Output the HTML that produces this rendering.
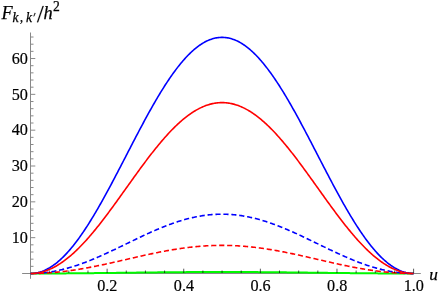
<!DOCTYPE html>
<html><head><meta charset="utf-8"><title>plot</title>
<style>
html,body{margin:0;padding:0;background:#fff;}
body{width:438px;height:295px;position:relative;overflow:hidden;font-family:"Liberation Serif",serif;}
</style></head><body>
<svg width="438" height="295" viewBox="0 0 438 295" style="position:absolute;left:0;top:0;filter:blur(0.4px)">
<g stroke="#000" stroke-width="0.9" fill="none" stroke-opacity="0.52">
<line x1="22.1" y1="273.50" x2="420.8" y2="273.50"/>
<line x1="30.50" y1="32.5" x2="30.50" y2="278.8"/>
</g>
<g fill="none" stroke-linejoin="round">
<path d="M30.50,273.50 L31.46,273.50 L32.42,273.50 L33.37,273.50 L34.33,273.50 L35.29,273.50 L36.25,273.50 L37.20,273.50 L38.16,273.49 L39.12,273.49 L40.08,273.49 L41.04,273.49 L41.99,273.49 L42.95,273.48 L43.91,273.48 L44.87,273.48 L45.82,273.48 L46.78,273.47 L47.74,273.47 L48.70,273.47 L49.66,273.46 L50.61,273.46 L51.57,273.46 L52.53,273.45 L53.49,273.45 L54.44,273.44 L55.40,273.44 L56.36,273.43 L57.32,273.43 L58.27,273.42 L59.23,273.42 L60.19,273.41 L61.15,273.41 L62.11,273.40 L63.06,273.40 L64.02,273.39 L64.98,273.38 L65.94,273.38 L66.89,273.37 L67.85,273.36 L68.81,273.36 L69.77,273.35 L70.73,273.34 L71.68,273.33 L72.64,273.33 L73.60,273.32 L74.56,273.31 L75.51,273.30 L76.47,273.30 L77.43,273.29 L78.39,273.28 L79.35,273.27 L80.30,273.26 L81.26,273.25 L82.22,273.25 L83.18,273.24 L84.13,273.23 L85.09,273.22 L86.05,273.21 L87.01,273.20 L87.97,273.19 L88.92,273.18 L89.88,273.17 L90.84,273.16 L91.80,273.15 L92.75,273.14 L93.71,273.13 L94.67,273.12 L95.63,273.11 L96.58,273.10 L97.54,273.09 L98.50,273.08 L99.46,273.07 L100.42,273.06 L101.37,273.05 L102.33,273.04 L103.29,273.02 L104.25,273.01 L105.20,273.00 L106.16,272.99 L107.12,272.98 L108.08,272.97 L109.04,272.96 L109.99,272.95 L110.95,272.93 L111.91,272.92 L112.87,272.91 L113.82,272.90 L114.78,272.89 L115.74,272.88 L116.70,272.87 L117.66,272.85 L118.61,272.84 L119.57,272.83 L120.53,272.82 L121.49,272.81 L122.44,272.79 L123.40,272.78 L124.36,272.77 L125.32,272.76 L126.28,272.75 L127.23,272.74 L128.19,272.72 L129.15,272.71 L130.11,272.70 L131.06,272.69 L132.02,272.68 L132.98,272.67 L133.94,272.65 L134.89,272.64 L135.85,272.63 L136.81,272.62 L137.77,272.61 L138.73,272.59 L139.68,272.58 L140.64,272.57 L141.60,272.56 L142.56,272.55 L143.51,272.54 L144.47,272.53 L145.43,272.52 L146.39,272.50 L147.35,272.49 L148.30,272.48 L149.26,272.47 L150.22,272.46 L151.18,272.45 L152.13,272.44 L153.09,272.43 L154.05,272.42 L155.01,272.41 L155.97,272.40 L156.92,272.39 L157.88,272.37 L158.84,272.36 L159.80,272.35 L160.75,272.34 L161.71,272.33 L162.67,272.32 L163.63,272.31 L164.59,272.31 L165.54,272.30 L166.50,272.29 L167.46,272.28 L168.42,272.27 L169.37,272.26 L170.33,272.25 L171.29,272.24 L172.25,272.23 L173.20,272.22 L174.16,272.22 L175.12,272.21 L176.08,272.20 L177.04,272.19 L177.99,272.18 L178.95,272.18 L179.91,272.17 L180.87,272.16 L181.82,272.15 L182.78,272.15 L183.74,272.14 L184.70,272.13 L185.66,272.13 L186.61,272.12 L187.57,272.11 L188.53,272.11 L189.49,272.10 L190.44,272.09 L191.40,272.09 L192.36,272.08 L193.32,272.08 L194.28,272.07 L195.23,272.07 L196.19,272.06 L197.15,272.06 L198.11,272.05 L199.06,272.05 L200.02,272.04 L200.98,272.04 L201.94,272.04 L202.90,272.03 L203.85,272.03 L204.81,272.03 L205.77,272.02 L206.73,272.02 L207.68,272.02 L208.64,272.01 L209.60,272.01 L210.56,272.01 L211.51,272.01 L212.47,272.00 L213.43,272.00 L214.39,272.00 L215.35,272.00 L216.30,272.00 L217.26,272.00 L218.22,272.00 L219.18,272.00 L220.13,272.00 L221.09,272.00 L222.05,272.00 L223.01,272.00 L223.97,272.00 L224.92,272.00 L225.88,272.00 L226.84,272.00 L227.80,272.00 L228.75,272.00 L229.71,272.00 L230.67,272.00 L231.63,272.00 L232.59,272.01 L233.54,272.01 L234.50,272.01 L235.46,272.01 L236.42,272.02 L237.37,272.02 L238.33,272.02 L239.29,272.03 L240.25,272.03 L241.21,272.03 L242.16,272.04 L243.12,272.04 L244.08,272.04 L245.04,272.05 L245.99,272.05 L246.95,272.06 L247.91,272.06 L248.87,272.07 L249.82,272.07 L250.78,272.08 L251.74,272.08 L252.70,272.09 L253.66,272.09 L254.61,272.10 L255.57,272.11 L256.53,272.11 L257.49,272.12 L258.44,272.13 L259.40,272.13 L260.36,272.14 L261.32,272.15 L262.28,272.15 L263.23,272.16 L264.19,272.17 L265.15,272.18 L266.11,272.18 L267.06,272.19 L268.02,272.20 L268.98,272.21 L269.94,272.22 L270.90,272.22 L271.85,272.23 L272.81,272.24 L273.77,272.25 L274.73,272.26 L275.68,272.27 L276.64,272.28 L277.60,272.29 L278.56,272.30 L279.51,272.31 L280.47,272.31 L281.43,272.32 L282.39,272.33 L283.35,272.34 L284.30,272.35 L285.26,272.36 L286.22,272.37 L287.18,272.39 L288.13,272.40 L289.09,272.41 L290.05,272.42 L291.01,272.43 L291.97,272.44 L292.92,272.45 L293.88,272.46 L294.84,272.47 L295.80,272.48 L296.75,272.49 L297.71,272.50 L298.67,272.52 L299.63,272.53 L300.59,272.54 L301.54,272.55 L302.50,272.56 L303.46,272.57 L304.42,272.58 L305.37,272.59 L306.33,272.61 L307.29,272.62 L308.25,272.63 L309.21,272.64 L310.16,272.65 L311.12,272.67 L312.08,272.68 L313.04,272.69 L313.99,272.70 L314.95,272.71 L315.91,272.72 L316.87,272.74 L317.83,272.75 L318.78,272.76 L319.74,272.77 L320.70,272.78 L321.66,272.79 L322.61,272.81 L323.57,272.82 L324.53,272.83 L325.49,272.84 L326.44,272.85 L327.40,272.87 L328.36,272.88 L329.32,272.89 L330.28,272.90 L331.23,272.91 L332.19,272.92 L333.15,272.93 L334.11,272.95 L335.06,272.96 L336.02,272.97 L336.98,272.98 L337.94,272.99 L338.90,273.00 L339.85,273.01 L340.81,273.02 L341.77,273.04 L342.73,273.05 L343.68,273.06 L344.64,273.07 L345.60,273.08 L346.56,273.09 L347.52,273.10 L348.47,273.11 L349.43,273.12 L350.39,273.13 L351.35,273.14 L352.30,273.15 L353.26,273.16 L354.22,273.17 L355.18,273.18 L356.13,273.19 L357.09,273.20 L358.05,273.21 L359.01,273.22 L359.97,273.23 L360.92,273.24 L361.88,273.25 L362.84,273.25 L363.80,273.26 L364.75,273.27 L365.71,273.28 L366.67,273.29 L367.63,273.30 L368.59,273.30 L369.54,273.31 L370.50,273.32 L371.46,273.33 L372.42,273.33 L373.37,273.34 L374.33,273.35 L375.29,273.36 L376.25,273.36 L377.21,273.37 L378.16,273.38 L379.12,273.38 L380.08,273.39 L381.04,273.40 L381.99,273.40 L382.95,273.41 L383.91,273.41 L384.87,273.42 L385.83,273.42 L386.78,273.43 L387.74,273.43 L388.70,273.44 L389.66,273.44 L390.61,273.45 L391.57,273.45 L392.53,273.46 L393.49,273.46 L394.44,273.46 L395.40,273.47 L396.36,273.47 L397.32,273.47 L398.28,273.48 L399.23,273.48 L400.19,273.48 L401.15,273.48 L402.11,273.49 L403.06,273.49 L404.02,273.49 L404.98,273.49 L405.94,273.49 L406.90,273.50 L407.85,273.50 L408.81,273.50 L409.77,273.50 L410.73,273.50 L411.68,273.50 L412.64,273.50 L413.60,273.50" stroke="#00f800" stroke-width="2.0"/>
<path d="M30.50,273.50 L31.46,273.50 L32.42,273.49 L33.37,273.47 L34.33,273.44 L35.29,273.41 L36.25,273.37 L37.20,273.32 L38.16,273.27 L39.12,273.20 L40.08,273.13 L41.04,273.06 L41.99,272.97 L42.95,272.88 L43.91,272.79 L44.87,272.68 L45.82,272.57 L46.78,272.45 L47.74,272.32 L48.70,272.19 L49.66,272.05 L50.61,271.90 L51.57,271.75 L52.53,271.59 L53.49,271.42 L54.44,271.24 L55.40,271.06 L56.36,270.87 L57.32,270.68 L58.27,270.48 L59.23,270.27 L60.19,270.05 L61.15,269.83 L62.11,269.61 L63.06,269.37 L64.02,269.13 L64.98,268.88 L65.94,268.63 L66.89,268.37 L67.85,268.11 L68.81,267.84 L69.77,267.56 L70.73,267.28 L71.68,266.99 L72.64,266.70 L73.60,266.40 L74.56,266.09 L75.51,265.78 L76.47,265.46 L77.43,265.14 L78.39,264.82 L79.35,264.48 L80.30,264.15 L81.26,263.81 L82.22,263.46 L83.18,263.11 L84.13,262.75 L85.09,262.39 L86.05,262.02 L87.01,261.65 L87.97,261.28 L88.92,260.90 L89.88,260.52 L90.84,260.13 L91.80,259.74 L92.75,259.34 L93.71,258.94 L94.67,258.54 L95.63,258.13 L96.58,257.72 L97.54,257.31 L98.50,256.89 L99.46,256.47 L100.42,256.05 L101.37,255.63 L102.33,255.20 L103.29,254.77 L104.25,254.33 L105.20,253.89 L106.16,253.45 L107.12,253.01 L108.08,252.57 L109.04,252.12 L109.99,251.67 L110.95,251.22 L111.91,250.77 L112.87,250.32 L113.82,249.86 L114.78,249.41 L115.74,248.95 L116.70,248.49 L117.66,248.03 L118.61,247.57 L119.57,247.10 L120.53,246.64 L121.49,246.18 L122.44,245.71 L123.40,245.25 L124.36,244.78 L125.32,244.32 L126.28,243.85 L127.23,243.38 L128.19,242.92 L129.15,242.45 L130.11,241.99 L131.06,241.52 L132.02,241.06 L132.98,240.60 L133.94,240.13 L134.89,239.67 L135.85,239.21 L136.81,238.75 L137.77,238.29 L138.73,237.84 L139.68,237.38 L140.64,236.93 L141.60,236.48 L142.56,236.03 L143.51,235.58 L144.47,235.13 L145.43,234.69 L146.39,234.25 L147.35,233.81 L148.30,233.37 L149.26,232.94 L150.22,232.50 L151.18,232.08 L152.13,231.65 L153.09,231.23 L154.05,230.81 L155.01,230.39 L155.97,229.98 L156.92,229.57 L157.88,229.16 L158.84,228.76 L159.80,228.36 L160.75,227.96 L161.71,227.57 L162.67,227.19 L163.63,226.80 L164.59,226.42 L165.54,226.05 L166.50,225.68 L167.46,225.31 L168.42,224.95 L169.37,224.59 L170.33,224.24 L171.29,223.90 L172.25,223.55 L173.20,223.22 L174.16,222.89 L175.12,222.56 L176.08,222.24 L177.04,221.92 L177.99,221.61 L178.95,221.31 L179.91,221.01 L180.87,220.71 L181.82,220.42 L182.78,220.14 L183.74,219.86 L184.70,219.59 L185.66,219.33 L186.61,219.07 L187.57,218.82 L188.53,218.57 L189.49,218.33 L190.44,218.10 L191.40,217.87 L192.36,217.65 L193.32,217.43 L194.28,217.22 L195.23,217.02 L196.19,216.83 L197.15,216.64 L198.11,216.46 L199.06,216.28 L200.02,216.12 L200.98,215.95 L201.94,215.80 L202.90,215.65 L203.85,215.51 L204.81,215.38 L205.77,215.25 L206.73,215.13 L207.68,215.02 L208.64,214.92 L209.60,214.82 L210.56,214.73 L211.51,214.64 L212.47,214.57 L213.43,214.50 L214.39,214.44 L215.35,214.38 L216.30,214.33 L217.26,214.29 L218.22,214.26 L219.18,214.23 L220.13,214.22 L221.09,214.21 L222.05,214.20 L223.01,214.21 L223.97,214.22 L224.92,214.23 L225.88,214.26 L226.84,214.29 L227.80,214.33 L228.75,214.38 L229.71,214.44 L230.67,214.50 L231.63,214.57 L232.59,214.64 L233.54,214.73 L234.50,214.82 L235.46,214.92 L236.42,215.02 L237.37,215.13 L238.33,215.25 L239.29,215.38 L240.25,215.51 L241.21,215.65 L242.16,215.80 L243.12,215.95 L244.08,216.12 L245.04,216.28 L245.99,216.46 L246.95,216.64 L247.91,216.83 L248.87,217.02 L249.82,217.22 L250.78,217.43 L251.74,217.65 L252.70,217.87 L253.66,218.10 L254.61,218.33 L255.57,218.57 L256.53,218.82 L257.49,219.07 L258.44,219.33 L259.40,219.59 L260.36,219.86 L261.32,220.14 L262.28,220.42 L263.23,220.71 L264.19,221.01 L265.15,221.31 L266.11,221.61 L267.06,221.92 L268.02,222.24 L268.98,222.56 L269.94,222.89 L270.90,223.22 L271.85,223.55 L272.81,223.90 L273.77,224.24 L274.73,224.59 L275.68,224.95 L276.64,225.31 L277.60,225.68 L278.56,226.05 L279.51,226.42 L280.47,226.80 L281.43,227.19 L282.39,227.57 L283.35,227.96 L284.30,228.36 L285.26,228.76 L286.22,229.16 L287.18,229.57 L288.13,229.98 L289.09,230.39 L290.05,230.81 L291.01,231.23 L291.97,231.65 L292.92,232.08 L293.88,232.50 L294.84,232.94 L295.80,233.37 L296.75,233.81 L297.71,234.25 L298.67,234.69 L299.63,235.13 L300.59,235.58 L301.54,236.03 L302.50,236.48 L303.46,236.93 L304.42,237.38 L305.37,237.84 L306.33,238.29 L307.29,238.75 L308.25,239.21 L309.21,239.67 L310.16,240.13 L311.12,240.60 L312.08,241.06 L313.04,241.52 L313.99,241.99 L314.95,242.45 L315.91,242.92 L316.87,243.38 L317.83,243.85 L318.78,244.32 L319.74,244.78 L320.70,245.25 L321.66,245.71 L322.61,246.18 L323.57,246.64 L324.53,247.10 L325.49,247.57 L326.44,248.03 L327.40,248.49 L328.36,248.95 L329.32,249.41 L330.28,249.86 L331.23,250.32 L332.19,250.77 L333.15,251.22 L334.11,251.67 L335.06,252.12 L336.02,252.57 L336.98,253.01 L337.94,253.45 L338.90,253.89 L339.85,254.33 L340.81,254.77 L341.77,255.20 L342.73,255.63 L343.68,256.05 L344.64,256.47 L345.60,256.89 L346.56,257.31 L347.52,257.72 L348.47,258.13 L349.43,258.54 L350.39,258.94 L351.35,259.34 L352.30,259.74 L353.26,260.13 L354.22,260.52 L355.18,260.90 L356.13,261.28 L357.09,261.65 L358.05,262.02 L359.01,262.39 L359.97,262.75 L360.92,263.11 L361.88,263.46 L362.84,263.81 L363.80,264.15 L364.75,264.48 L365.71,264.82 L366.67,265.14 L367.63,265.46 L368.59,265.78 L369.54,266.09 L370.50,266.40 L371.46,266.70 L372.42,266.99 L373.37,267.28 L374.33,267.56 L375.29,267.84 L376.25,268.11 L377.21,268.37 L378.16,268.63 L379.12,268.88 L380.08,269.13 L381.04,269.37 L381.99,269.61 L382.95,269.83 L383.91,270.05 L384.87,270.27 L385.83,270.48 L386.78,270.68 L387.74,270.87 L388.70,271.06 L389.66,271.24 L390.61,271.42 L391.57,271.59 L392.53,271.75 L393.49,271.90 L394.44,272.05 L395.40,272.19 L396.36,272.32 L397.32,272.45 L398.28,272.57 L399.23,272.68 L400.19,272.79 L401.15,272.88 L402.11,272.97 L403.06,273.06 L404.02,273.13 L404.98,273.20 L405.94,273.27 L406.90,273.32 L407.85,273.37 L408.81,273.41 L409.77,273.44 L410.73,273.47 L411.68,273.49 L412.64,273.50 L413.60,273.50" stroke="#0000ff" stroke-width="1.6" stroke-dasharray="5.15 2.8" stroke-dashoffset="2.95"/>
<path d="M30.50,273.50 L31.46,273.50 L32.42,273.49 L33.37,273.48 L34.33,273.47 L35.29,273.46 L36.25,273.44 L37.20,273.42 L38.16,273.39 L39.12,273.36 L40.08,273.33 L41.04,273.29 L41.99,273.25 L42.95,273.21 L43.91,273.16 L44.87,273.11 L45.82,273.06 L46.78,273.00 L47.74,272.94 L48.70,272.88 L49.66,272.81 L50.61,272.74 L51.57,272.67 L52.53,272.59 L53.49,272.51 L54.44,272.43 L55.40,272.34 L56.36,272.25 L57.32,272.16 L58.27,272.07 L59.23,271.97 L60.19,271.87 L61.15,271.76 L62.11,271.65 L63.06,271.54 L64.02,271.43 L64.98,271.31 L65.94,271.19 L66.89,271.07 L67.85,270.94 L68.81,270.81 L69.77,270.68 L70.73,270.55 L71.68,270.41 L72.64,270.27 L73.60,270.13 L74.56,269.99 L75.51,269.84 L76.47,269.69 L77.43,269.54 L78.39,269.38 L79.35,269.22 L80.30,269.06 L81.26,268.90 L82.22,268.74 L83.18,268.57 L84.13,268.40 L85.09,268.23 L86.05,268.06 L87.01,267.88 L87.97,267.70 L88.92,267.52 L89.88,267.34 L90.84,267.16 L91.80,266.97 L92.75,266.78 L93.71,266.60 L94.67,266.40 L95.63,266.21 L96.58,266.02 L97.54,265.82 L98.50,265.62 L99.46,265.42 L100.42,265.22 L101.37,265.02 L102.33,264.82 L103.29,264.61 L104.25,264.41 L105.20,264.20 L106.16,263.99 L107.12,263.78 L108.08,263.57 L109.04,263.36 L109.99,263.15 L110.95,262.93 L111.91,262.72 L112.87,262.50 L113.82,262.29 L114.78,262.07 L115.74,261.85 L116.70,261.64 L117.66,261.42 L118.61,261.20 L119.57,260.98 L120.53,260.76 L121.49,260.54 L122.44,260.32 L123.40,260.10 L124.36,259.88 L125.32,259.66 L126.28,259.44 L127.23,259.22 L128.19,258.99 L129.15,258.77 L130.11,258.55 L131.06,258.33 L132.02,258.11 L132.98,257.89 L133.94,257.67 L134.89,257.46 L135.85,257.24 L136.81,257.02 L137.77,256.80 L138.73,256.58 L139.68,256.37 L140.64,256.15 L141.60,255.94 L142.56,255.73 L143.51,255.51 L144.47,255.30 L145.43,255.09 L146.39,254.88 L147.35,254.67 L148.30,254.47 L149.26,254.26 L150.22,254.05 L151.18,253.85 L152.13,253.65 L153.09,253.45 L154.05,253.25 L155.01,253.05 L155.97,252.86 L156.92,252.66 L157.88,252.47 L158.84,252.28 L159.80,252.09 L160.75,251.90 L161.71,251.72 L162.67,251.53 L163.63,251.35 L164.59,251.17 L165.54,250.99 L166.50,250.82 L167.46,250.64 L168.42,250.47 L169.37,250.30 L170.33,250.14 L171.29,249.97 L172.25,249.81 L173.20,249.65 L174.16,249.49 L175.12,249.34 L176.08,249.19 L177.04,249.04 L177.99,248.89 L178.95,248.74 L179.91,248.60 L180.87,248.46 L181.82,248.32 L182.78,248.19 L183.74,248.06 L184.70,247.93 L185.66,247.81 L186.61,247.68 L187.57,247.56 L188.53,247.45 L189.49,247.33 L190.44,247.22 L191.40,247.11 L192.36,247.01 L193.32,246.91 L194.28,246.81 L195.23,246.71 L196.19,246.62 L197.15,246.53 L198.11,246.44 L199.06,246.36 L200.02,246.28 L200.98,246.20 L201.94,246.13 L202.90,246.06 L203.85,246.00 L204.81,245.93 L205.77,245.87 L206.73,245.82 L207.68,245.76 L208.64,245.71 L209.60,245.67 L210.56,245.62 L211.51,245.58 L212.47,245.55 L213.43,245.51 L214.39,245.48 L215.35,245.46 L216.30,245.44 L217.26,245.42 L218.22,245.40 L219.18,245.39 L220.13,245.38 L221.09,245.38 L222.05,245.37 L223.01,245.38 L223.97,245.38 L224.92,245.39 L225.88,245.40 L226.84,245.42 L227.80,245.44 L228.75,245.46 L229.71,245.48 L230.67,245.51 L231.63,245.55 L232.59,245.58 L233.54,245.62 L234.50,245.67 L235.46,245.71 L236.42,245.76 L237.37,245.82 L238.33,245.87 L239.29,245.93 L240.25,246.00 L241.21,246.06 L242.16,246.13 L243.12,246.20 L244.08,246.28 L245.04,246.36 L245.99,246.44 L246.95,246.53 L247.91,246.62 L248.87,246.71 L249.82,246.81 L250.78,246.91 L251.74,247.01 L252.70,247.11 L253.66,247.22 L254.61,247.33 L255.57,247.45 L256.53,247.56 L257.49,247.68 L258.44,247.81 L259.40,247.93 L260.36,248.06 L261.32,248.19 L262.28,248.32 L263.23,248.46 L264.19,248.60 L265.15,248.74 L266.11,248.89 L267.06,249.04 L268.02,249.19 L268.98,249.34 L269.94,249.49 L270.90,249.65 L271.85,249.81 L272.81,249.97 L273.77,250.14 L274.73,250.30 L275.68,250.47 L276.64,250.64 L277.60,250.82 L278.56,250.99 L279.51,251.17 L280.47,251.35 L281.43,251.53 L282.39,251.72 L283.35,251.90 L284.30,252.09 L285.26,252.28 L286.22,252.47 L287.18,252.66 L288.13,252.86 L289.09,253.05 L290.05,253.25 L291.01,253.45 L291.97,253.65 L292.92,253.85 L293.88,254.05 L294.84,254.26 L295.80,254.47 L296.75,254.67 L297.71,254.88 L298.67,255.09 L299.63,255.30 L300.59,255.51 L301.54,255.73 L302.50,255.94 L303.46,256.15 L304.42,256.37 L305.37,256.58 L306.33,256.80 L307.29,257.02 L308.25,257.24 L309.21,257.46 L310.16,257.67 L311.12,257.89 L312.08,258.11 L313.04,258.33 L313.99,258.55 L314.95,258.77 L315.91,258.99 L316.87,259.22 L317.83,259.44 L318.78,259.66 L319.74,259.88 L320.70,260.10 L321.66,260.32 L322.61,260.54 L323.57,260.76 L324.53,260.98 L325.49,261.20 L326.44,261.42 L327.40,261.64 L328.36,261.85 L329.32,262.07 L330.28,262.29 L331.23,262.50 L332.19,262.72 L333.15,262.93 L334.11,263.15 L335.06,263.36 L336.02,263.57 L336.98,263.78 L337.94,263.99 L338.90,264.20 L339.85,264.41 L340.81,264.61 L341.77,264.82 L342.73,265.02 L343.68,265.22 L344.64,265.42 L345.60,265.62 L346.56,265.82 L347.52,266.02 L348.47,266.21 L349.43,266.40 L350.39,266.60 L351.35,266.78 L352.30,266.97 L353.26,267.16 L354.22,267.34 L355.18,267.52 L356.13,267.70 L357.09,267.88 L358.05,268.06 L359.01,268.23 L359.97,268.40 L360.92,268.57 L361.88,268.74 L362.84,268.90 L363.80,269.06 L364.75,269.22 L365.71,269.38 L366.67,269.54 L367.63,269.69 L368.59,269.84 L369.54,269.99 L370.50,270.13 L371.46,270.27 L372.42,270.41 L373.37,270.55 L374.33,270.68 L375.29,270.81 L376.25,270.94 L377.21,271.07 L378.16,271.19 L379.12,271.31 L380.08,271.43 L381.04,271.54 L381.99,271.65 L382.95,271.76 L383.91,271.87 L384.87,271.97 L385.83,272.07 L386.78,272.16 L387.74,272.25 L388.70,272.34 L389.66,272.43 L390.61,272.51 L391.57,272.59 L392.53,272.67 L393.49,272.74 L394.44,272.81 L395.40,272.88 L396.36,272.94 L397.32,273.00 L398.28,273.06 L399.23,273.11 L400.19,273.16 L401.15,273.21 L402.11,273.25 L403.06,273.29 L404.02,273.33 L404.98,273.36 L405.94,273.39 L406.90,273.42 L407.85,273.44 L408.81,273.46 L409.77,273.47 L410.73,273.48 L411.68,273.49 L412.64,273.50 L413.60,273.50" stroke="#ff0000" stroke-width="1.6" stroke-dasharray="5.15 2.8" stroke-dashoffset="7.55"/>
<path d="M30.50,273.50 L31.46,273.49 L32.42,273.44 L33.37,273.37 L34.33,273.27 L35.29,273.14 L36.25,272.98 L37.20,272.79 L38.16,272.57 L39.12,272.32 L40.08,272.05 L41.04,271.74 L41.99,271.41 L42.95,271.05 L43.91,270.66 L44.87,270.24 L45.82,269.79 L46.78,269.32 L47.74,268.81 L48.70,268.28 L49.66,267.72 L50.61,267.13 L51.57,266.52 L52.53,265.88 L53.49,265.21 L54.44,264.51 L55.40,263.79 L56.36,263.04 L57.32,262.26 L58.27,261.46 L59.23,260.63 L60.19,259.78 L61.15,258.90 L62.11,257.99 L63.06,257.06 L64.02,256.10 L64.98,255.12 L65.94,254.12 L66.89,253.09 L67.85,252.03 L68.81,250.95 L69.77,249.85 L70.73,248.73 L71.68,247.58 L72.64,246.41 L73.60,245.21 L74.56,244.00 L75.51,242.76 L76.47,241.50 L77.43,240.22 L78.39,238.92 L79.35,237.60 L80.30,236.26 L81.26,234.90 L82.22,233.51 L83.18,232.11 L84.13,230.69 L85.09,229.26 L86.05,227.80 L87.01,226.33 L87.97,224.83 L88.92,223.33 L89.88,221.80 L90.84,220.26 L91.80,218.70 L92.75,217.13 L93.71,215.54 L94.67,213.93 L95.63,212.32 L96.58,210.68 L97.54,209.04 L98.50,207.38 L99.46,205.71 L100.42,204.02 L101.37,202.33 L102.33,200.62 L103.29,198.90 L104.25,197.17 L105.20,195.43 L106.16,193.68 L107.12,191.92 L108.08,190.15 L109.04,188.38 L109.99,186.59 L110.95,184.80 L111.91,183.00 L112.87,181.19 L113.82,179.38 L114.78,177.56 L115.74,175.74 L116.70,173.91 L117.66,172.07 L118.61,170.24 L119.57,168.40 L120.53,166.55 L121.49,164.70 L122.44,162.85 L123.40,161.00 L124.36,159.15 L125.32,157.29 L126.28,155.44 L127.23,153.59 L128.19,151.73 L129.15,149.88 L130.11,148.03 L131.06,146.18 L132.02,144.33 L132.98,142.48 L133.94,140.64 L134.89,138.81 L135.85,136.97 L136.81,135.14 L137.77,133.32 L138.73,131.50 L139.68,129.69 L140.64,127.88 L141.60,126.08 L142.56,124.29 L143.51,122.50 L144.47,120.73 L145.43,118.96 L146.39,117.20 L147.35,115.45 L148.30,113.71 L149.26,111.98 L150.22,110.26 L151.18,108.55 L152.13,106.86 L153.09,105.17 L154.05,103.50 L155.01,101.84 L155.97,100.20 L156.92,98.56 L157.88,96.95 L158.84,95.34 L159.80,93.75 L160.75,92.18 L161.71,90.62 L162.67,89.08 L163.63,87.56 L164.59,86.05 L165.54,84.55 L166.50,83.08 L167.46,81.62 L168.42,80.19 L169.37,78.77 L170.33,77.37 L171.29,75.98 L172.25,74.62 L173.20,73.28 L174.16,71.96 L175.12,70.66 L176.08,69.38 L177.04,68.12 L177.99,66.88 L178.95,65.67 L179.91,64.47 L180.87,63.30 L181.82,62.15 L182.78,61.03 L183.74,59.93 L184.70,58.85 L185.66,57.80 L186.61,56.76 L187.57,55.76 L188.53,54.78 L189.49,53.82 L190.44,52.89 L191.40,51.98 L192.36,51.10 L193.32,50.25 L194.28,49.42 L195.23,48.62 L196.19,47.84 L197.15,47.09 L198.11,46.37 L199.06,45.67 L200.02,45.00 L200.98,44.36 L201.94,43.75 L202.90,43.16 L203.85,42.60 L204.81,42.07 L205.77,41.56 L206.73,41.09 L207.68,40.64 L208.64,40.22 L209.60,39.83 L210.56,39.47 L211.51,39.14 L212.47,38.83 L213.43,38.56 L214.39,38.31 L215.35,38.09 L216.30,37.90 L217.26,37.74 L218.22,37.61 L219.18,37.51 L220.13,37.44 L221.09,37.39 L222.05,37.38 L223.01,37.39 L223.97,37.44 L224.92,37.51 L225.88,37.61 L226.84,37.74 L227.80,37.90 L228.75,38.09 L229.71,38.31 L230.67,38.56 L231.63,38.83 L232.59,39.14 L233.54,39.47 L234.50,39.83 L235.46,40.22 L236.42,40.64 L237.37,41.09 L238.33,41.56 L239.29,42.07 L240.25,42.60 L241.21,43.16 L242.16,43.75 L243.12,44.36 L244.08,45.00 L245.04,45.67 L245.99,46.37 L246.95,47.09 L247.91,47.84 L248.87,48.62 L249.82,49.42 L250.78,50.25 L251.74,51.10 L252.70,51.98 L253.66,52.89 L254.61,53.82 L255.57,54.78 L256.53,55.76 L257.49,56.76 L258.44,57.80 L259.40,58.85 L260.36,59.93 L261.32,61.03 L262.28,62.15 L263.23,63.30 L264.19,64.47 L265.15,65.67 L266.11,66.88 L267.06,68.12 L268.02,69.38 L268.98,70.66 L269.94,71.96 L270.90,73.28 L271.85,74.62 L272.81,75.98 L273.77,77.37 L274.73,78.77 L275.68,80.19 L276.64,81.62 L277.60,83.08 L278.56,84.55 L279.51,86.05 L280.47,87.56 L281.43,89.08 L282.39,90.62 L283.35,92.18 L284.30,93.75 L285.26,95.34 L286.22,96.95 L287.18,98.56 L288.13,100.20 L289.09,101.84 L290.05,103.50 L291.01,105.17 L291.97,106.86 L292.92,108.55 L293.88,110.26 L294.84,111.98 L295.80,113.71 L296.75,115.45 L297.71,117.20 L298.67,118.96 L299.63,120.73 L300.59,122.50 L301.54,124.29 L302.50,126.08 L303.46,127.88 L304.42,129.69 L305.37,131.50 L306.33,133.32 L307.29,135.14 L308.25,136.97 L309.21,138.81 L310.16,140.64 L311.12,142.48 L312.08,144.33 L313.04,146.18 L313.99,148.03 L314.95,149.88 L315.91,151.73 L316.87,153.59 L317.83,155.44 L318.78,157.29 L319.74,159.15 L320.70,161.00 L321.66,162.85 L322.61,164.70 L323.57,166.55 L324.53,168.40 L325.49,170.24 L326.44,172.07 L327.40,173.91 L328.36,175.74 L329.32,177.56 L330.28,179.38 L331.23,181.19 L332.19,183.00 L333.15,184.80 L334.11,186.59 L335.06,188.38 L336.02,190.15 L336.98,191.92 L337.94,193.68 L338.90,195.43 L339.85,197.17 L340.81,198.90 L341.77,200.62 L342.73,202.33 L343.68,204.02 L344.64,205.71 L345.60,207.38 L346.56,209.04 L347.52,210.68 L348.47,212.32 L349.43,213.93 L350.39,215.54 L351.35,217.13 L352.30,218.70 L353.26,220.26 L354.22,221.80 L355.18,223.33 L356.13,224.83 L357.09,226.33 L358.05,227.80 L359.01,229.26 L359.97,230.69 L360.92,232.11 L361.88,233.51 L362.84,234.90 L363.80,236.26 L364.75,237.60 L365.71,238.92 L366.67,240.22 L367.63,241.50 L368.59,242.76 L369.54,244.00 L370.50,245.21 L371.46,246.41 L372.42,247.58 L373.37,248.73 L374.33,249.85 L375.29,250.95 L376.25,252.03 L377.21,253.09 L378.16,254.12 L379.12,255.12 L380.08,256.10 L381.04,257.06 L381.99,257.99 L382.95,258.90 L383.91,259.78 L384.87,260.63 L385.83,261.46 L386.78,262.26 L387.74,263.04 L388.70,263.79 L389.66,264.51 L390.61,265.21 L391.57,265.88 L392.53,266.52 L393.49,267.13 L394.44,267.72 L395.40,268.28 L396.36,268.81 L397.32,269.32 L398.28,269.79 L399.23,270.24 L400.19,270.66 L401.15,271.05 L402.11,271.41 L403.06,271.74 L404.02,272.05 L404.98,272.32 L405.94,272.57 L406.90,272.79 L407.85,272.98 L408.81,273.14 L409.77,273.27 L410.73,273.37 L411.68,273.44 L412.64,273.49 L413.60,273.50" stroke="#0000ff" stroke-width="1.6"/>
<path d="M30.50,273.50 L31.46,273.49 L32.42,273.46 L33.37,273.41 L34.33,273.33 L35.29,273.24 L36.25,273.12 L37.20,272.98 L38.16,272.83 L39.12,272.65 L40.08,272.45 L41.04,272.23 L41.99,271.99 L42.95,271.72 L43.91,271.44 L44.87,271.14 L45.82,270.82 L46.78,270.47 L47.74,270.11 L48.70,269.72 L49.66,269.32 L50.61,268.89 L51.57,268.45 L52.53,267.98 L53.49,267.50 L54.44,267.00 L55.40,266.47 L56.36,265.93 L57.32,265.37 L58.27,264.79 L59.23,264.19 L60.19,263.57 L61.15,262.93 L62.11,262.27 L63.06,261.60 L64.02,260.91 L64.98,260.20 L65.94,259.47 L66.89,258.72 L67.85,257.96 L68.81,257.18 L69.77,256.38 L70.73,255.57 L71.68,254.74 L72.64,253.89 L73.60,253.03 L74.56,252.15 L75.51,251.25 L76.47,250.34 L77.43,249.41 L78.39,248.47 L79.35,247.51 L80.30,246.54 L81.26,245.56 L82.22,244.56 L83.18,243.54 L84.13,242.52 L85.09,241.48 L86.05,240.42 L87.01,239.35 L87.97,238.27 L88.92,237.18 L89.88,236.08 L90.84,234.96 L91.80,233.83 L92.75,232.70 L93.71,231.55 L94.67,230.38 L95.63,229.21 L96.58,228.03 L97.54,226.84 L98.50,225.64 L99.46,224.43 L100.42,223.21 L101.37,221.98 L102.33,220.75 L103.29,219.50 L104.25,218.25 L105.20,216.99 L106.16,215.73 L107.12,214.45 L108.08,213.17 L109.04,211.89 L109.99,210.59 L110.95,209.30 L111.91,207.99 L112.87,206.69 L113.82,205.37 L114.78,204.06 L115.74,202.74 L116.70,201.41 L117.66,200.09 L118.61,198.76 L119.57,197.42 L120.53,196.09 L121.49,194.75 L122.44,193.41 L123.40,192.07 L124.36,190.73 L125.32,189.39 L126.28,188.05 L127.23,186.70 L128.19,185.36 L129.15,184.02 L130.11,182.68 L131.06,181.34 L132.02,180.00 L132.98,178.67 L133.94,177.34 L134.89,176.00 L135.85,174.68 L136.81,173.35 L137.77,172.03 L138.73,170.72 L139.68,169.40 L140.64,168.10 L141.60,166.79 L142.56,165.50 L143.51,164.20 L144.47,162.92 L145.43,161.64 L146.39,160.37 L147.35,159.10 L148.30,157.84 L149.26,156.59 L150.22,155.34 L151.18,154.11 L152.13,152.88 L153.09,151.66 L154.05,150.45 L155.01,149.25 L155.97,148.06 L156.92,146.88 L157.88,145.71 L158.84,144.55 L159.80,143.40 L160.75,142.26 L161.71,141.13 L162.67,140.01 L163.63,138.91 L164.59,137.82 L165.54,136.74 L166.50,135.67 L167.46,134.62 L168.42,133.57 L169.37,132.55 L170.33,131.53 L171.29,130.53 L172.25,129.55 L173.20,128.58 L174.16,127.62 L175.12,126.68 L176.08,125.75 L177.04,124.84 L177.99,123.95 L178.95,123.07 L179.91,122.20 L180.87,121.35 L181.82,120.52 L182.78,119.71 L183.74,118.91 L184.70,118.13 L185.66,117.37 L186.61,116.62 L187.57,115.89 L188.53,115.18 L189.49,114.49 L190.44,113.82 L191.40,113.16 L192.36,112.52 L193.32,111.90 L194.28,111.30 L195.23,110.72 L196.19,110.16 L197.15,109.62 L198.11,109.10 L199.06,108.59 L200.02,108.11 L200.98,107.64 L201.94,107.20 L202.90,106.77 L203.85,106.37 L204.81,105.98 L205.77,105.62 L206.73,105.28 L207.68,104.95 L208.64,104.65 L209.60,104.37 L210.56,104.10 L211.51,103.86 L212.47,103.64 L213.43,103.44 L214.39,103.26 L215.35,103.11 L216.30,102.97 L217.26,102.85 L218.22,102.76 L219.18,102.69 L220.13,102.63 L221.09,102.60 L222.05,102.59 L223.01,102.60 L223.97,102.63 L224.92,102.69 L225.88,102.76 L226.84,102.85 L227.80,102.97 L228.75,103.11 L229.71,103.26 L230.67,103.44 L231.63,103.64 L232.59,103.86 L233.54,104.10 L234.50,104.37 L235.46,104.65 L236.42,104.95 L237.37,105.28 L238.33,105.62 L239.29,105.98 L240.25,106.37 L241.21,106.77 L242.16,107.20 L243.12,107.64 L244.08,108.11 L245.04,108.59 L245.99,109.10 L246.95,109.62 L247.91,110.16 L248.87,110.72 L249.82,111.30 L250.78,111.90 L251.74,112.52 L252.70,113.16 L253.66,113.82 L254.61,114.49 L255.57,115.18 L256.53,115.89 L257.49,116.62 L258.44,117.37 L259.40,118.13 L260.36,118.91 L261.32,119.71 L262.28,120.52 L263.23,121.35 L264.19,122.20 L265.15,123.07 L266.11,123.95 L267.06,124.84 L268.02,125.75 L268.98,126.68 L269.94,127.62 L270.90,128.58 L271.85,129.55 L272.81,130.53 L273.77,131.53 L274.73,132.55 L275.68,133.57 L276.64,134.62 L277.60,135.67 L278.56,136.74 L279.51,137.82 L280.47,138.91 L281.43,140.01 L282.39,141.13 L283.35,142.26 L284.30,143.40 L285.26,144.55 L286.22,145.71 L287.18,146.88 L288.13,148.06 L289.09,149.25 L290.05,150.45 L291.01,151.66 L291.97,152.88 L292.92,154.11 L293.88,155.34 L294.84,156.59 L295.80,157.84 L296.75,159.10 L297.71,160.37 L298.67,161.64 L299.63,162.92 L300.59,164.20 L301.54,165.50 L302.50,166.79 L303.46,168.10 L304.42,169.40 L305.37,170.72 L306.33,172.03 L307.29,173.35 L308.25,174.68 L309.21,176.00 L310.16,177.34 L311.12,178.67 L312.08,180.00 L313.04,181.34 L313.99,182.68 L314.95,184.02 L315.91,185.36 L316.87,186.70 L317.83,188.05 L318.78,189.39 L319.74,190.73 L320.70,192.07 L321.66,193.41 L322.61,194.75 L323.57,196.09 L324.53,197.42 L325.49,198.76 L326.44,200.09 L327.40,201.41 L328.36,202.74 L329.32,204.06 L330.28,205.37 L331.23,206.69 L332.19,207.99 L333.15,209.30 L334.11,210.59 L335.06,211.89 L336.02,213.17 L336.98,214.45 L337.94,215.73 L338.90,216.99 L339.85,218.25 L340.81,219.50 L341.77,220.75 L342.73,221.98 L343.68,223.21 L344.64,224.43 L345.60,225.64 L346.56,226.84 L347.52,228.03 L348.47,229.21 L349.43,230.38 L350.39,231.55 L351.35,232.70 L352.30,233.83 L353.26,234.96 L354.22,236.08 L355.18,237.18 L356.13,238.27 L357.09,239.35 L358.05,240.42 L359.01,241.48 L359.97,242.52 L360.92,243.54 L361.88,244.56 L362.84,245.56 L363.80,246.54 L364.75,247.51 L365.71,248.47 L366.67,249.41 L367.63,250.34 L368.59,251.25 L369.54,252.15 L370.50,253.03 L371.46,253.89 L372.42,254.74 L373.37,255.57 L374.33,256.38 L375.29,257.18 L376.25,257.96 L377.21,258.72 L378.16,259.47 L379.12,260.20 L380.08,260.91 L381.04,261.60 L381.99,262.27 L382.95,262.93 L383.91,263.57 L384.87,264.19 L385.83,264.79 L386.78,265.37 L387.74,265.93 L388.70,266.47 L389.66,267.00 L390.61,267.50 L391.57,267.98 L392.53,268.45 L393.49,268.89 L394.44,269.32 L395.40,269.72 L396.36,270.11 L397.32,270.47 L398.28,270.82 L399.23,271.14 L400.19,271.44 L401.15,271.72 L402.11,271.99 L403.06,272.23 L404.02,272.45 L404.98,272.65 L405.94,272.83 L406.90,272.98 L407.85,273.12 L408.81,273.24 L409.77,273.33 L410.73,273.41 L411.68,273.46 L412.64,273.49 L413.60,273.50" stroke="#ff0000" stroke-width="1.6"/>
</g>
<g stroke="#000" stroke-width="0.9" fill="none" stroke-opacity="0.52">
<line x1="49.66" y1="273.00" x2="49.66" y2="270.50" stroke-opacity="0.72"/>
<line x1="68.81" y1="273.00" x2="68.81" y2="270.50" stroke-opacity="0.72"/>
<line x1="87.97" y1="273.00" x2="87.97" y2="270.50" stroke-opacity="0.72"/>
<line x1="107.12" y1="273.00" x2="107.12" y2="268.70" stroke-opacity="0.72"/>
<line x1="126.28" y1="273.00" x2="126.28" y2="270.50" stroke-opacity="0.72"/>
<line x1="145.43" y1="273.00" x2="145.43" y2="270.50" stroke-opacity="0.72"/>
<line x1="164.59" y1="273.00" x2="164.59" y2="270.50" stroke-opacity="0.72"/>
<line x1="183.74" y1="273.00" x2="183.74" y2="268.70" stroke-opacity="0.72"/>
<line x1="202.90" y1="273.00" x2="202.90" y2="270.50" stroke-opacity="0.72"/>
<line x1="222.05" y1="273.00" x2="222.05" y2="270.50" stroke-opacity="0.72"/>
<line x1="241.21" y1="273.00" x2="241.21" y2="270.50" stroke-opacity="0.72"/>
<line x1="260.36" y1="273.00" x2="260.36" y2="268.70" stroke-opacity="0.72"/>
<line x1="279.51" y1="273.00" x2="279.51" y2="270.50" stroke-opacity="0.72"/>
<line x1="298.67" y1="273.00" x2="298.67" y2="270.50" stroke-opacity="0.72"/>
<line x1="317.83" y1="273.00" x2="317.83" y2="270.50" stroke-opacity="0.72"/>
<line x1="336.98" y1="273.00" x2="336.98" y2="268.70" stroke-opacity="0.72"/>
<line x1="356.14" y1="273.00" x2="356.14" y2="270.50" stroke-opacity="0.72"/>
<line x1="375.29" y1="273.00" x2="375.29" y2="270.50" stroke-opacity="0.72"/>
<line x1="394.45" y1="273.00" x2="394.45" y2="270.50" stroke-opacity="0.72"/>
<line x1="413.60" y1="273.00" x2="413.60" y2="268.70" stroke-opacity="0.72"/>
<line x1="31.00" y1="266.33" x2="33.50" y2="266.33"/>
<line x1="31.00" y1="259.17" x2="33.50" y2="259.17"/>
<line x1="31.00" y1="252.00" x2="33.50" y2="252.00"/>
<line x1="31.00" y1="244.84" x2="33.50" y2="244.84"/>
<line x1="31.00" y1="237.67" x2="35.30" y2="237.67"/>
<line x1="31.00" y1="230.50" x2="33.50" y2="230.50"/>
<line x1="31.00" y1="223.34" x2="33.50" y2="223.34"/>
<line x1="31.00" y1="216.17" x2="33.50" y2="216.17"/>
<line x1="31.00" y1="209.01" x2="33.50" y2="209.01"/>
<line x1="31.00" y1="201.84" x2="35.30" y2="201.84"/>
<line x1="31.00" y1="194.67" x2="33.50" y2="194.67"/>
<line x1="31.00" y1="187.51" x2="33.50" y2="187.51"/>
<line x1="31.00" y1="180.34" x2="33.50" y2="180.34"/>
<line x1="31.00" y1="173.18" x2="33.50" y2="173.18"/>
<line x1="31.00" y1="166.01" x2="35.30" y2="166.01"/>
<line x1="31.00" y1="158.84" x2="33.50" y2="158.84"/>
<line x1="31.00" y1="151.68" x2="33.50" y2="151.68"/>
<line x1="31.00" y1="144.51" x2="33.50" y2="144.51"/>
<line x1="31.00" y1="137.35" x2="33.50" y2="137.35"/>
<line x1="31.00" y1="130.18" x2="35.30" y2="130.18"/>
<line x1="31.00" y1="123.01" x2="33.50" y2="123.01"/>
<line x1="31.00" y1="115.85" x2="33.50" y2="115.85"/>
<line x1="31.00" y1="108.68" x2="33.50" y2="108.68"/>
<line x1="31.00" y1="101.52" x2="33.50" y2="101.52"/>
<line x1="31.00" y1="94.35" x2="35.30" y2="94.35"/>
<line x1="31.00" y1="87.18" x2="33.50" y2="87.18"/>
<line x1="31.00" y1="80.02" x2="33.50" y2="80.02"/>
<line x1="31.00" y1="72.85" x2="33.50" y2="72.85"/>
<line x1="31.00" y1="65.69" x2="33.50" y2="65.69"/>
<line x1="31.00" y1="58.52" x2="35.30" y2="58.52"/>
<line x1="31.00" y1="51.35" x2="33.50" y2="51.35"/>
<line x1="31.00" y1="44.19" x2="33.50" y2="44.19"/>
<line x1="31.00" y1="37.02" x2="33.50" y2="37.02"/>
</g>
<g font-family="&quot;Liberation Serif&quot;, serif" font-size="16.2" fill="#000" stroke="#000" stroke-width="0.18">
<text x="107.32" y="291.0" text-anchor="middle">0.2</text>
<text x="183.94" y="291.0" text-anchor="middle">0.4</text>
<text x="260.56" y="291.0" text-anchor="middle">0.6</text>
<text x="337.18" y="291.0" text-anchor="middle">0.8</text>
<text x="413.80" y="291.0" text-anchor="middle">1.0</text>
<text x="27.9" y="242.97" text-anchor="end">10</text>
<text x="27.9" y="207.14" text-anchor="end">20</text>
<text x="27.9" y="171.31" text-anchor="end">30</text>
<text x="27.9" y="135.48" text-anchor="end">40</text>
<text x="27.9" y="99.65" text-anchor="end">50</text>
<text x="27.9" y="63.82" text-anchor="end">60</text>
</g>
<g font-family="&quot;Liberation Serif&quot;, serif" font-style="italic" fill="#000" stroke="#000" stroke-width="0.25">
<text x="429.2" y="279.8" font-size="17.3">u</text>
<text x="1.4" y="19.0" font-size="18.3">F</text>
<text x="12.5" y="22.2" font-size="13.6">k</text>
<text x="19.7" y="22.2" font-size="13.6">,</text>
<text x="26.1" y="22.2" font-size="13.6">k</text>
<path d="M34.7 12.9 L35.5 13.3 L34.0 16.4 L33.6 16.2 Z"/>
<path d="M37.0 22.2 L42.6 6.0 L43.7 6.0 L38.1 22.2 Z"/>
<text x="43.6" y="19.0" font-size="18.3">h</text>
<text x="52.9" y="10.5" font-size="13.6" font-style="normal">2</text>
</g>
</svg>
</body></html>
